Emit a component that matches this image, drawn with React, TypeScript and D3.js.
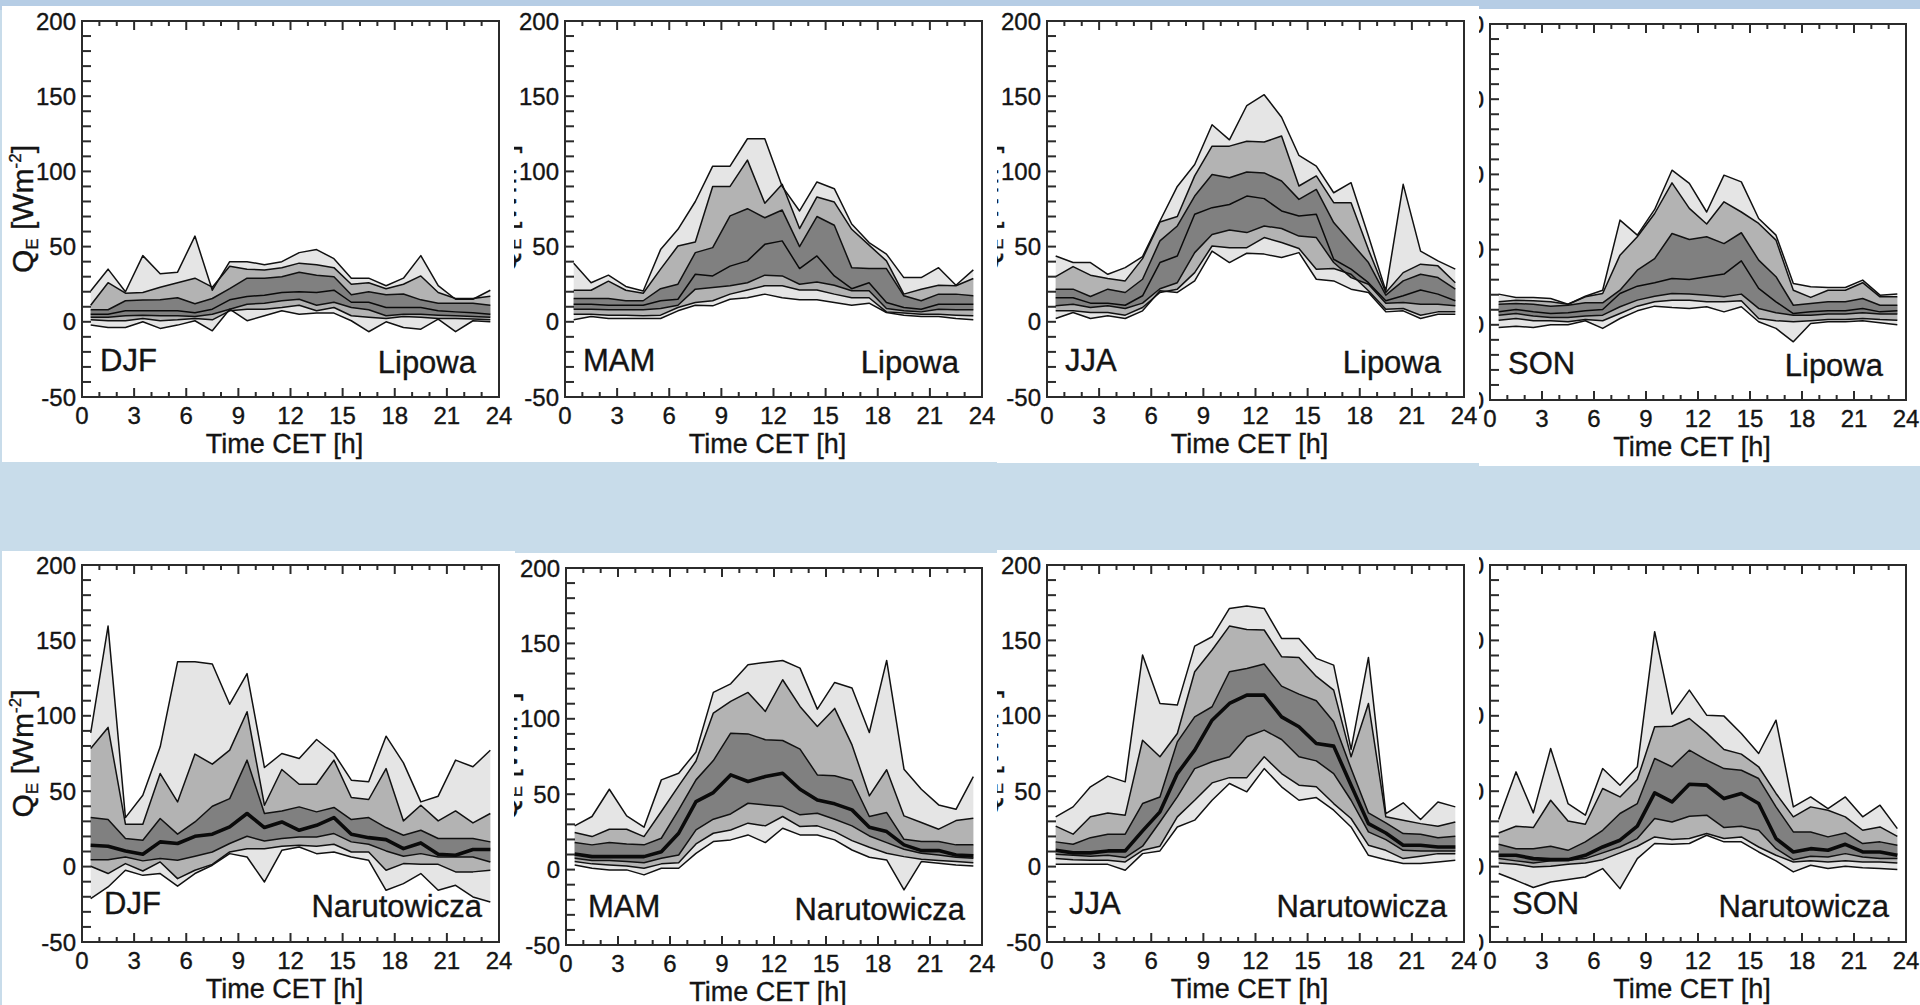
import React from 'react';
import * as d3 from 'd3';

// Half-hour centres of the hourly bins (CET)
const HOURS = [0.5, 1.5, 2.5, 3.5, 4.5, 5.5, 6.5, 7.5, 8.5, 9.5, 10.5, 11.5, 12.5, 13.5, 14.5, 15.5, 16.5, 17.5, 18.5, 19.5, 20.5, 21.5, 22.5, 23.5];
const Y_TICK_LABELS = [200, 150, 100, 50, 0, -50];
const X_TICK_LABELS = [0, 3, 6, 9, 12, 15, 18, 21, 24];
const SEASONS = ['DJF', 'MAM', 'JJA', 'SON'];
const STATIONS = ['Lipowa', 'Narutowicza'];
// Row order inside each panel array: p5, p10, p25, p50, p75, p90, p95 (QE, W m-2)

const lipowaDJF = [
  [-2.2, -3.8, -3.8, 0, -4.4, -2.2, 0.7, -6, 8.4, 0.7, 4, 7.3, 5, 5.8, 5.8, 0.7, -6.6, 0, -3.8, -4.9, 1.8, -6.6, 0.7, 0],
  [1.3, 0.7, 0.7, 2.2, 0.7, 1.3, 2.2, 1.3, 7.3, 8.4, 8.4, 9.5, 11, 7.3, 9.5, 4, 3, 2.2, 3.5, 3, 2.2, 2.2, 1.8, 1.3],
  [3, 3, 4, 4.4, 4, 4, 3.5, 5, 8.4, 11.7, 12.4, 14, 15, 11, 13, 9.5, 8, 4, 5, 5, 4.4, 4, 3.5, 3],
  [5, 5, 7.3, 7.3, 7.3, 7.3, 6, 8.4, 14.6, 16.8, 17.7, 19.5, 20, 19.5, 21, 13, 13, 9.5, 9.5, 9.5, 7.3, 6.6, 6, 5],
  [8, 8, 14, 14.5, 14.6, 16, 12, 15.5, 22, 29, 29, 30, 33, 31, 30, 18, 20, 18, 18.5, 14.6, 12.4, 12.4, 12.4, 11],
  [11, 26, 19, 19.5, 23, 26, 29, 23, 37, 35, 34.5, 36, 39, 38, 36, 25, 26, 22, 25, 30.5, 19.5, 15.5, 15.5, 17],
  [20.5, 35, 20, 44, 32, 33, 57, 21, 40, 40, 38, 40, 46, 48, 42, 29, 29, 24, 29, 44, 24, 15, 15, 21],
];

const lipowaMAM = [
  [1.3, 3.5, 2.2, 2.2, 2.2, 2.2, 7.3, 11, 10.6, 15, 16, 18.4, 16, 14.6, 14.6, 12.8, 11, 12.4, 6.2, 4.4, 3.5, 3.5, 2.2, 1.3],
  [5, 5, 4.4, 4.4, 4, 4.4, 9.5, 12.8, 14, 18.4, 21.2, 24, 24, 21.2, 21.2, 18.4, 16, 16, 6.6, 5.8, 5, 5, 4.4, 4],
  [8.4, 8.4, 8, 8, 8, 8.8, 11, 21.7, 22.8, 24, 26, 31, 30.5, 25, 26.5, 24.3, 20.6, 20.6, 8.8, 7.3, 6.6, 8.4, 8, 8],
  [11.7, 11.7, 11, 11, 11, 14, 15, 31.6, 30.5, 37, 40.5, 51.5, 53.8, 35.4, 43.8, 30.5, 22, 26, 12.8, 9.5, 8.4, 11.7, 11.7, 11.7],
  [15.5, 15.5, 15.5, 14, 14, 22, 25, 46, 49.3, 70.4, 75.2, 69.2, 74.3, 50, 70, 64.2, 36, 35.4, 35.4, 17.3, 14, 18.4, 18.4, 17.3],
  [21, 21, 27, 21, 19, 35, 50.4, 53, 90, 90, 107.5, 78.8, 91.4, 62, 83, 79.6, 61.5, 51, 40.5, 18.4, 21.7, 24.3, 24, 28.8],
  [39, 26, 31, 23.5, 20.5, 48, 61.5, 80, 103.5, 103.5, 121.7, 121.7, 90, 73.7, 93, 88.5, 65, 52.7, 45, 29.4, 29.4, 36, 24.3, 34.5],
];

const lipowaJJA = [
  [2.2, 6.2, 2.2, 4, 2.2, 7.3, 20.6, 19.5, 27.2, 47, 39.4, 45.6, 45, 42.7, 46, 28.3, 27.2, 21.7, 19.5, 6.6, 7.3, 2.2, 5, 5],
  [7.3, 7.3, 6.2, 6.2, 4.4, 9.5, 19.5, 21.7, 32.7, 50.4, 49.3, 49.3, 56, 52.7, 48.7, 35, 35.4, 31.6, 20.6, 8.4, 8.8, 4.4, 6.6, 6.6],
  [10.6, 11.7, 9.5, 10.6, 8.8, 12.4, 22, 26, 46, 58, 61, 59.3, 63.7, 62, 57, 56, 39.4, 29.4, 25, 12.4, 12.8, 11.7, 11.7, 10.6],
  [16, 16, 12.4, 12.4, 11, 17.3, 39.4, 43.8, 71.5, 75.9, 78, 83.6, 81.9, 73.7, 70.4, 71.5, 41.6, 35, 26, 14, 17.3, 21.2, 18.4, 14],
  [21.7, 21.7, 16.8, 21.7, 19.5, 28.3, 53.8, 63.7, 83.6, 98, 95.8, 99.6, 99, 93.6, 81.4, 88, 66, 52.7, 39.4, 17.7, 27.2, 31.6, 29.4, 21.7],
  [30, 36.7, 31, 28.8, 27.2, 42, 66.4, 70, 97, 116.8, 116.8, 120, 119.5, 123.5, 90.3, 97, 79.2, 79.2, 48, 19.5, 32.7, 38.3, 37.2, 26],
  [43.8, 39.4, 39.4, 31.6, 36, 43.4, 67, 90, 104.6, 131, 121, 143.8, 151, 136, 110.6, 103.5, 85.8, 92.5, 57, 20.6, 91.4, 47, 40.5, 35],
];

const lipowaSON = [
  [-1.8, -0.9, -1.8, 0, 0, 2.7, -2.4, 4.2, 9.3, 12.4, 11.5, 10.9, 12, 8.6, 12, 2, -2.4, -11.3, 0.9, 2, 2, 2.7, 1.3, 0],
  [3.1, 4.2, 2.7, 2.7, 2, 3.5, 2.7, 7.5, 12.4, 15.3, 16.4, 16.4, 15.3, 15.3, 16, 4.2, 2.7, 2, 2.7, 3.5, 3.5, 4.2, 3.5, 3.1],
  [6.4, 7.5, 5.8, 4.9, 4.9, 5.8, 6.4, 12, 16.4, 19, 20.8, 20.4, 19.7, 18.6, 20.4, 10.9, 8, 6.4, 6.4, 7.1, 7.1, 8, 7.1, 7.1],
  [8.6, 10.2, 8.6, 7.5, 8, 9.3, 10.2, 20.8, 25.7, 28, 30.8, 30.1, 31.9, 33.7, 42.5, 24.2, 15.3, 7.5, 8.6, 9.3, 9.3, 10.9, 8.6, 9.3],
  [13.7, 14.2, 13.7, 12.4, 13, 14.6, 14.6, 23, 36.3, 44, 60.7, 56.7, 58.5, 54, 61.2, 43, 32, 13, 14.2, 15.3, 15.3, 17.5, 13, 13],
  [15.3, 16.4, 16, 15.3, 13.7, 18.6, 20.8, 46.3, 58.5, 74, 94.4, 77.4, 67, 81.8, 75, 67.4, 56.3, 23, 18.2, 23, 23, 28, 18.6, 18.6],
  [20.4, 18.2, 18.2, 17.5, 13.7, 19, 23, 69.6, 59.6, 76.7, 102.8, 94, 75, 99.5, 95, 70.7, 59.6, 27.5, 25.3, 24.8, 24.8, 29.7, 19.7, 20.4],
];

const narutowiczaDJF = [
  [-21.2, -13.5, -2.4, -5.8, -4.6, -13, -4.6, 0.9, 8.6, 6.4, -10.2, 10.8, 13, 8.6, 9.7, 6.4, 4.2, -15.7, -11.3, -4.6, -15.7, -12.4, -20.1, -23.5],
  [0.2, -4.6, 2, -2.9, 3.1, -8, -2.4, 1.5, 9.7, 11.9, 11.9, 13.5, 14.2, 13.5, 14.8, 9.7, 9.7, -2.4, 2, 1.5, 1.5, -3.5, -3.5, -2.4],
  [4.6, 4.6, 6.4, 3.8, 5.3, 4.2, 6.9, 9.7, 15.3, 20.1, 17, 18.6, 19.7, 19.7, 21.9, 16.4, 14.8, 10.4, 6.9, 8.6, 6.4, 6.4, 6.4, 3.1],
  [14.2, 13.5, 10.4, 8.2, 16.4, 15.3, 20.1, 21.5, 26.3, 35.2, 25.9, 29.6, 24.1, 27.4, 32.5, 21.5, 19.2, 17.9, 11.9, 15.7, 8.2, 7.5, 11.3, 11.3],
  [32.5, 31.2, 18.6, 17.5, 31.9, 21.5, 29.6, 40, 45.1, 70.6, 35.2, 36.9, 39.6, 36.3, 39.2, 31.2, 32.5, 25.9, 20.8, 24.1, 18.6, 18.6, 18.6, 16.4],
  [78.3, 92.3, 28.1, 28.1, 61.7, 42.9, 74.6, 67.9, 77.2, 102.7, 40.7, 64.4, 54.6, 54.6, 70.6, 45.8, 44.5, 65, 30.3, 40.7, 30.3, 36.9, 29, 35.2],
  [88.7, 159.5, 32.5, 47.3, 79.4, 135.8, 135.8, 134.3, 107.7, 128, 65.7, 75, 71.7, 84.3, 75, 57.3, 56.2, 86.5, 68.8, 42.9, 46.7, 70.6, 66.2, 77.2],
];

const narutowiczaMAM = [
  [3.1, 0.9, -0.2, -0.2, -3.5, 0.9, 0.9, 10.8, 18.6, 19.7, 23, 17.9, 27.4, 23, 23, 19.7, 13, 8.2, 6.4, -13.5, 5.3, 4.2, 3.1, 2.4],
  [5.3, 3.8, 3.1, 2.4, 0.9, 3.8, 4.6, 17, 24.1, 26.3, 30.8, 29, 35.2, 28.5, 29, 25.2, 19.2, 14.8, 10.8, 8.6, 6.9, 6, 5.3, 4.6],
  [7.5, 6, 6, 5.3, 4.6, 7.5, 9.7, 26.3, 33.4, 36.9, 44, 42.9, 41.8, 36.3, 37.4, 33.4, 29, 22.3, 17.9, 13.5, 10.8, 9.7, 8.2, 7.5],
  [10.4, 8.6, 8.6, 8.6, 8.6, 11.9, 24.1, 45.1, 51.1, 62.8, 58.4, 61.7, 63.9, 53.3, 46.2, 43.6, 39.6, 28.1, 25.2, 16.4, 12.6, 12.6, 9.7, 9.1],
  [17.9, 16.4, 17.9, 17, 16.4, 20.8, 39.6, 59.5, 72.3, 90.5, 90, 86.1, 85.6, 79.9, 62.8, 62.2, 59.1, 35.2, 37.8, 20.1, 18.6, 18.6, 16.4, 16.4],
  [24.6, 21.9, 26.8, 26.8, 21.9, 38.5, 55.5, 72, 103.8, 111.5, 117.5, 104.9, 125.9, 108.2, 94.9, 106.9, 82.7, 48.9, 66.2, 35.6, 31.2, 26.8, 32.5, 34.1],
  [29, 35.2, 53.3, 35.6, 28.1, 59.5, 63.9, 78, 117.5, 123.2, 135.8, 137.4, 138.7, 133.6, 106.4, 124.1, 120.4, 90.9, 138.7, 66.6, 53.3, 42.9, 40, 61.7],
];

const narutowiczaJJA = [
  [1.5, 1.5, 1.5, 1.5, -2.4, 8.6, 10.4, 26.3, 30.8, 44, 55.1, 49.6, 65, 52.9, 44, 45.8, 37.4, 26.3, 7.5, 4.6, 2, 2, 3.1, 4.2],
  [5.3, 4.6, 4.2, 4.2, 3.1, 10.8, 13.5, 33, 44, 55.5, 59, 59, 72.8, 61.7, 54, 52.9, 41.8, 31.9, 14.2, 10.8, 5.3, 6.9, 8.6, 8.6],
  [8.2, 7.5, 6.9, 7.5, 6, 13.5, 29.6, 46.2, 65, 69.5, 72.8, 86.1, 90.5, 84.3, 72.8, 70.1, 61.7, 44, 23, 17.9, 10.8, 10.4, 10.4, 10.4],
  [10.8, 9.1, 9.1, 10.4, 10.4, 23.7, 36.3, 61.7, 77.2, 97.1, 108.2, 113.7, 113.7, 99.3, 92.7, 81.6, 79.9, 54, 28.5, 22.3, 14.2, 14.2, 13, 13],
  [16.4, 14.8, 19.2, 21.5, 21.5, 41.8, 46.2, 82.7, 99.3, 106, 129.2, 131.4, 134.3, 119.7, 114.4, 110, 96, 65, 35.6, 29, 21.9, 21.5, 19.2, 20.1],
  [26.8, 21.5, 33, 35.6, 34.1, 83.8, 72.8, 88.3, 129.2, 143.6, 159.5, 157.3, 156.9, 139.2, 138.7, 126.1, 117, 72.8, 108.2, 33, 30.8, 28.5, 26.8, 29.6],
  [33, 39.6, 52.9, 60, 56.2, 140.3, 108.2, 107.1, 146.2, 152.4, 171.2, 172.8, 171.2, 151.3, 151.3, 138.1, 133.6, 77.7, 138.7, 35.2, 42.3, 31.2, 42.9, 39.6],
];

const narutowiczaSON = [
  [-4.6, -9.1, -13.9, -10.2, -8.6, -6.9, -1.3, -14.6, 5.3, 15.3, 14.8, 15.3, 20.8, 16.4, 16.4, 9.7, 3.8, -3.5, 0.9, -1.3, 0.2, -0.7, -1.3, -2],
  [2.4, 1.5, -0.2, 0.2, 1.5, 2.4, 4.6, 9.1, 13.5, 19.7, 17.9, 18.6, 21.9, 18.6, 19.7, 13, 7.5, 3.1, 3.8, 3.1, 3.8, 3.1, 3.1, 2.4],
  [5.3, 3.8, 2.4, 3.8, 4.2, 5.3, 9.1, 13, 18.6, 31.9, 29.6, 33.4, 34.1, 25.9, 26.8, 24.1, 11.9, 4.6, 6.9, 6.4, 8.6, 6.4, 5.3, 5.3],
  [7.5, 7.5, 5.3, 4.6, 4.6, 7.5, 13, 17.5, 26.8, 48.9, 42.9, 54.6, 54, 45.1, 48.5, 41.8, 18.6, 9.7, 11.9, 10.8, 14.8, 9.7, 9.7, 7.5],
  [14.8, 11.9, 11.9, 13.5, 10.8, 16.4, 24.1, 35.2, 41.8, 71.7, 66.2, 77.2, 70.6, 65, 63.9, 58.4, 39.6, 23, 23, 19.7, 22.3, 15.3, 16.4, 14.2],
  [22.3, 26.8, 25.9, 44, 30.3, 28.1, 51.8, 46.2, 57.7, 92.7, 93.1, 98.2, 88.7, 77.7, 74.6, 66.2, 48.5, 33, 39.6, 37.4, 33, 24.1, 26.3, 20.1],
  [31.2, 62.8, 35.6, 78.3, 41.8, 34.1, 65, 54, 66.2, 155.8, 101.1, 117, 100.4, 99.8, 88.3, 75, 97.1, 39.6, 46.2, 38.5, 46.2, 33, 40.7, 25.2],
];

const PANEL_DATA = [
  [lipowaDJF, lipowaMAM, lipowaJJA, lipowaSON],
  [narutowiczaDJF, narutowiczaMAM, narutowiczaJJA, narutowiczaSON],
];

// Page layout: plot frame (l, r, t, b) and the white tile each panel sits on
const LAYOUT = [
  [
    { l: 82, r: 499, t: 21, b: 397, tile: [2, 6, 513, 456] },
    { l: 565, r: 982, t: 21, b: 397, tile: [514, 6, 483, 456] },
    { l: 1047, r: 1464, t: 21, b: 397, tile: [997, 6, 482, 457] },
    { l: 1490, r: 1906, t: 24, b: 400, tile: [1479, 9, 441, 457] },
  ],
  [
    { l: 82, r: 499, t: 565, b: 942, tile: [2, 551, 513, 454] },
    { l: 566, r: 982, t: 568, b: 945, tile: [514, 553, 483, 452] },
    { l: 1047, r: 1464, t: 565, b: 942, tile: [997, 550, 482, 455] },
    { l: 1490, r: 1906, t: 565, b: 942, tile: [1479, 550, 441, 455] },
  ],
];

const FONT = '"Liberation Sans", Arial, Helvetica, sans-serif';
const INK = '#141414';
const FRAME = '#2b2b2b';
const FILL_OUTER = '#e5e5e5';
const FILL_MID = '#b3b3b3';
const FILL_INNER = '#808080';

type Box = { l: number; r: number; t: number; b: number; tile: number[] };

function Panel({ box, season, station, rows, thickMedian, id }: {
  box: Box; season: string; station: string; rows: number[][]; thickMedian: boolean; id: string;
}) {
  const { l, r, t, b, tile } = box;
  const x = d3.scaleLinear().domain([0, 24]).range([l, r]);
  const y = d3.scaleLinear().domain([-50, 200]).range([b, t]);

  const band = (lo: number[], hi: number[]) =>
    d3.area<number>()
      .x((h) => x(h))
      .y0((_, i) => y(lo[i]))
      .y1((_, i) => y(hi[i]))(HOURS) || '';
  const trace = (vals: number[]) =>
    d3.line<number>()
      .x((h) => x(h))
      .y((_, i) => y(vals[i]))(HOURS) || '';

  const [p5, p10, p25, p50, p75, p90, p95] = rows;
  const yTicks = y.ticks(25);
  const xTicks = x.ticks(24);
  const cy = (t + b) / 2;

  return (
    <g>
      <defs>
        <clipPath id={id}>
          <rect x={tile[0]} y={tile[1]} width={tile[2]} height={tile[3]} />
        </clipPath>
      </defs>
      <rect x={tile[0]} y={tile[1]} width={tile[2]} height={tile[3]} fill="#ffffff" />
      <g clipPath={`url(#${id})`}>
        <path d={band(p5, p95)} fill={FILL_OUTER} />
        <path d={band(p10, p90)} fill={FILL_MID} />
        <path d={band(p25, p75)} fill={FILL_INNER} />
        {[p5, p10, p25, p75, p90, p95].map((vals, i) => (
          <path key={i} d={trace(vals)} fill="none" stroke="#111" strokeWidth={1.5} strokeLinejoin="round" />
        ))}
        <path d={trace(p50)} fill="none" stroke="#0a0a0a" strokeWidth={thickMedian ? 3.6 : 1.5} strokeLinejoin="round" />

        {/* inward ticks: left every 10 W m-2, top and bottom every hour */}
        {yTicks.map((v) => (
          <line key={`y${v}`} x1={l} x2={l + 9} y1={y(v)} y2={y(v)} stroke={FRAME} strokeWidth={2} />
        ))}
        {xTicks.map((h) => {
          const len = h % 3 === 0 ? 9 : 5;
          return (
            <g key={`x${h}`}>
              <line x1={x(h)} x2={x(h)} y1={b} y2={b - len} stroke={FRAME} strokeWidth={2} />
              <line x1={x(h)} x2={x(h)} y1={t} y2={t + len} stroke={FRAME} strokeWidth={2} />
            </g>
          );
        })}
        <rect x={l} y={t} width={r - l} height={b - t} fill="none" stroke={FRAME} strokeWidth={2} />

        <g fontFamily={FONT} fill={INK} stroke={INK} strokeWidth={0.35}>
          {Y_TICK_LABELS.map((v) => (
            <text key={`yl${v}`} x={l - 6} y={y(v)} dy="0.36em" textAnchor="end" fontSize={24}>{v}</text>
          ))}
          {X_TICK_LABELS.map((h) => (
            <text key={`xl${h}`} x={x(h)} y={b + 27} textAnchor="middle" fontSize={24}>{h}</text>
          ))}
          <text x={(l + r) / 2 - 6} y={b + 56} textAnchor="middle" fontSize={27}>Time CET [h]</text>
          <text transform={`translate(${l - 49},${cy}) rotate(-90)`} textAnchor="middle" fontSize={30}>
            Q<tspan fontSize={17} dy={5}>E</tspan>
            <tspan dy={-5}> [Wm</tspan>
            <tspan fontSize={17} dy={-12}>-2</tspan>
            <tspan dy={12}>]</tspan>
          </text>
          <text x={l + (thickMedian ? 22 : 18)} y={b - (thickMedian ? 28 : 26)} fontSize={31}>{season}</text>
          <text x={r - (thickMedian ? 17 : 23)} y={b - (thickMedian ? 25 : 24)} textAnchor="end" fontSize={31}>{station}</text>
        </g>
      </g>
    </g>
  );
}

export default function App() {
  return (
    <svg
      width={1920}
      height={1005}
      viewBox="0 0 1920 1005"
      style={{ position: 'absolute', left: 0, top: 0, display: 'block' }}
    >
      <rect x={0} y={0} width={1920} height={1005} fill="#c8dcea" />
      <rect x={0} y={0} width={1920} height={10} fill="#b6cde5" />
      {STATIONS.map((station, row) =>
        SEASONS.map((season, col) => (
          <Panel
            key={`${row}-${col}`}
            id={`tile-${row}-${col}`}
            box={LAYOUT[row][col]}
            season={season}
            station={station}
            rows={PANEL_DATA[row][col]}
            thickMedian={row === 1}
          />
        ))
      )}
    </svg>
  );
}
